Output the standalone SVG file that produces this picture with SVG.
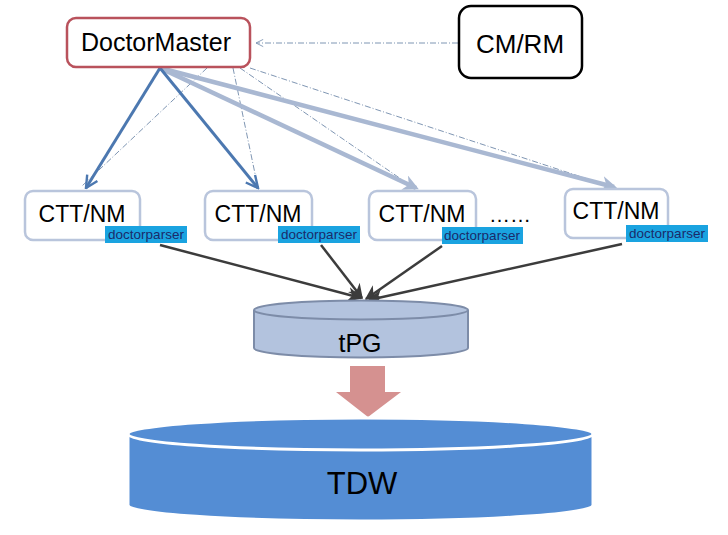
<svg xmlns="http://www.w3.org/2000/svg" width="728" height="535" viewBox="0 0 728 535">
<defs>
<style>
.lbl{font-family:"Liberation Sans",Arial,sans-serif;fill:#000;text-anchor:middle}
.box{fill:#fff;stroke:#b9c5dc;stroke-width:2.5}
.dp{fill:#1aa3e0}
.dpt{font-family:"Liberation Sans",Arial,sans-serif;font-size:13.5px;fill:#1b2a6a;text-anchor:middle}
.dash{fill:none;stroke:#7f96b3;stroke-width:1;stroke-dasharray:6 2 1 2}
.blue{fill:none;stroke:#4c78b0;stroke-width:3}
.pale{fill:none;stroke:#a9b8d2;stroke-width:4.5}
.dark{fill:none;stroke:#3c3c3c;stroke-width:2.5}
</style>
<marker id="mBlue" viewBox="0 0 10 10" refX="9" refY="5" markerWidth="5" markerHeight="5" orient="auto" markerUnits="strokeWidth"><path d="M1,1 L9,5 L1,9" fill="none" stroke="#4c78b0" stroke-width="1.6"/></marker>
<marker id="mPale" viewBox="0 0 10 10" refX="8" refY="5" markerWidth="3.5" markerHeight="3.5" orient="auto" markerUnits="strokeWidth"><path d="M0,0 L10,5 L0,10 L3,5 Z" fill="#a9b8d2"/></marker>
<marker id="mDark" viewBox="0 0 10 10" refX="9" refY="5" markerWidth="6" markerHeight="6" orient="auto" markerUnits="strokeWidth"><path d="M0,0 L10,5 L0,10 L3,5 Z" fill="#3c3c3c"/></marker>
<marker id="mDash" viewBox="0 0 10 10" refX="9" refY="5" markerWidth="9" markerHeight="9" orient="auto" markerUnits="strokeWidth"><path d="M1,1 L9,5 L1,9" fill="none" stroke="#7f96b3" stroke-width="1"/></marker>
</defs>
<rect width="728" height="535" fill="#fff"/>

<g id="connectors">
<line class="dash" x1="458" y1="43" x2="256" y2="43" marker-end="url(#mDash)"/>
<line class="dash" x1="207" y1="68" x2="82" y2="186"/>
<line class="dash" x1="233" y1="68" x2="258" y2="188"/>
<line class="dash" x1="240" y1="68" x2="414" y2="188"/>
<line class="dash" x1="250" y1="68" x2="612" y2="187"/>
<line class="pale" x1="160" y1="68" x2="416" y2="188" marker-end="url(#mPale)"/>
<line class="pale" x1="160" y1="68" x2="614" y2="187" marker-end="url(#mPale)"/>
<line class="blue" x1="160" y1="68" x2="86" y2="188" marker-end="url(#mBlue)"/>
<line class="blue" x1="160" y1="68" x2="258" y2="188" marker-end="url(#mBlue)"/>
<line class="dark" x1="160" y1="245" x2="361" y2="298" marker-end="url(#mDark)"/>
<line class="dark" x1="321" y1="245" x2="362" y2="298" marker-end="url(#mDark)"/>
<line class="dark" x1="442" y1="246" x2="366" y2="299" marker-end="url(#mDark)"/>
<line class="dark" x1="622" y1="244" x2="369" y2="300" marker-end="url(#mDark)"/>
<path d="M350,366 H385 V392 H401 L368,417 L336,392 H350 Z" fill="#d59190"/>
</g>

<g id="doctormaster">
<rect x="67" y="18" width="183" height="49" rx="9" fill="#fff" stroke="#b9525c" stroke-width="2.5"/>
<text class="lbl" x="156" y="51" font-size="25">DoctorMaster</text>
</g>

<g id="cmrm">
<rect x="459" y="6" width="123" height="72" rx="12" fill="#fff" stroke="#000" stroke-width="2.5"/>
<text class="lbl" x="520" y="53" font-size="26">CM/RM</text>
</g>

<g id="ctt1">
<rect class="box" x="25" y="191" width="115" height="49" rx="8"/>
<text class="lbl" x="82" y="222" font-size="23">CTT/NM</text>
<rect class="dp" x="105" y="226" width="82" height="17"/>
<text class="dpt" x="146" y="239">doctorparser</text>
</g>

<g id="ctt2">
<rect class="box" x="205" y="191" width="107" height="49" rx="8"/>
<text class="lbl" x="258" y="222" font-size="23">CTT/NM</text>
<rect class="dp" x="278" y="226" width="82" height="17"/>
<text class="dpt" x="319" y="239">doctorparser</text>
</g>

<g id="ctt3">
<rect class="box" x="369" y="191" width="107" height="49" rx="8"/>
<text class="lbl" x="422" y="222" font-size="23">CTT/NM</text>
<rect class="dp" x="442" y="227" width="81" height="17"/>
<text class="dpt" x="482" y="240">doctorparser</text>
</g>

<text class="lbl" x="510" y="222" font-size="21">……</text>

<g id="ctt4">
<rect class="box" x="565" y="189" width="103" height="49" rx="8"/>
<text class="lbl" x="616" y="219" font-size="23">CTT/NM</text>
<rect class="dp" x="626" y="225" width="82" height="17"/>
<text class="dpt" x="667" y="238">doctorparser</text>
</g>

<g id="tpg">
<path d="M254,310 V348 A107,9.5 0 0 0 468,348 V310" fill="#b3c3de" stroke="#7d8ca8" stroke-width="2"/>
<ellipse cx="361" cy="310" rx="107" ry="9.5" fill="#b3c3de" stroke="#7d8ca8" stroke-width="2"/>
<text class="lbl" x="360" y="352" font-size="25">tPG</text>
</g>

<g id="tdw">
<path d="M128,434 V505 A232,16 0 0 0 593,505 V434" fill="#548dd4" stroke="#ffffff" stroke-width="3"/>
<ellipse cx="360.5" cy="434" rx="232.5" ry="16" fill="#548dd4" stroke="#ffffff" stroke-width="3"/>
<text class="lbl" x="362" y="494" font-size="31">TDW</text>
</g>
</svg>
